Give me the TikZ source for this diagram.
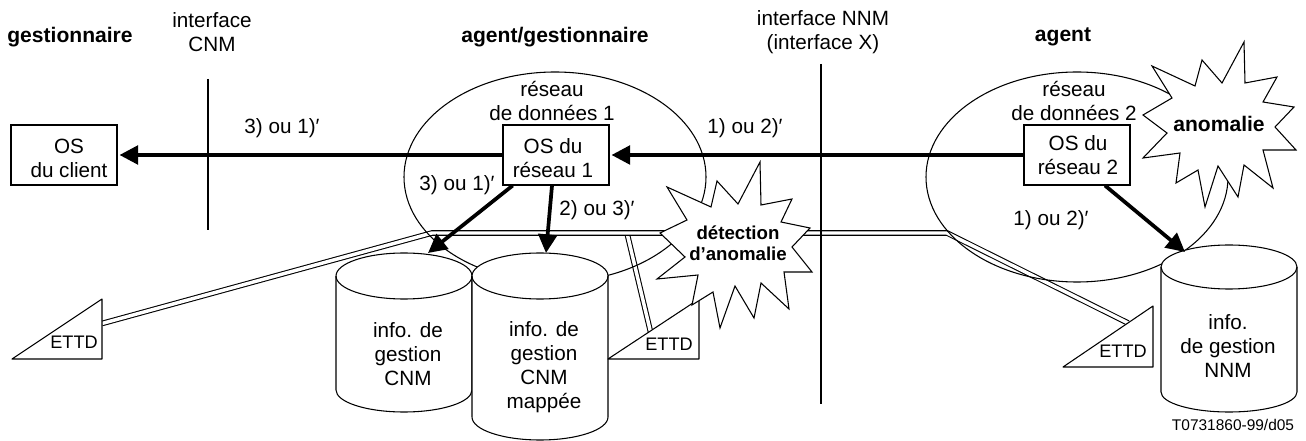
\documentclass[tikz,border=0pt]{standalone}
\usepackage{fontspec}
\setmainfont{Liberation Sans}
\usetikzlibrary{arrows.meta}
\tikzset{
  lab/.style={font=\fontsize{15.5}{18}\selectfont,align=center,inner sep=0pt},
  labb/.style={font=\fontsize{15.8}{18}\selectfont\bfseries,align=center,inner sep=0pt},
  burstlab/.style={font=\fontsize{14}{16}\selectfont\bfseries,align=center,inner sep=0pt},
  ettdlab/.style={font=\fontsize{13.6}{16}\selectfont,inner sep=0pt},
  reflab/.style={font=\fontsize{11.6}{13}\selectfont,inner sep=0pt},
  thin line/.style={line width=0.8pt,draw=black},
  osbox/.style={thin line,fill=white},
  cyl/.style={thin line,fill=white,line join=round},
  burst/.style={thin line,fill=white,line join=miter},
  bus/.style={line width=0.8pt,double=white,double distance=2.6pt,line join=miter},
  thickarrow/.style={line width=2.8pt,-{Triangle[length=14pt,width=14pt]},shorten >=0pt},
  iface/.style={line width=1.2pt}
}
\newcommand{\cylshape}[6]{%
  \draw[cyl] (#1,#3) -- (#1,#4) arc[start angle=180,end angle=0,x radius=68,y radius=#5]
     -- (#2,#3) arc[start angle=0,end angle=-180,x radius=68,y radius=#6] -- cycle;
  \draw[thin line] (#1,#3) arc[start angle=180,end angle=0,x radius=68,y radius=#6];
}
\begin{document}
\begin{tikzpicture}[x=0.75pt,y=-0.75pt]
\useasboundingbox (0,0) rectangle (1306,441);
% named anchor points
\coordinate (e1l) at (102,323.5);
\coordinate (b1) at (432,233);
\coordinate (b2) at (947,233);
\coordinate (e3l) at (1128,323);
\coordinate (brt) at (627,233);
\coordinate (e2l) at (651,334);
\coordinate (cnmt) at (208,79);
\coordinate (cnmb) at (208,230);
\coordinate (nnmt) at (821,64);
\coordinate (nnmb) at (821,404);
\coordinate (tipc1) at (428,253);
\coordinate (tipc2) at (546,253);
\coordinate (tipc3) at (1185,252);
% double lines
\draw[bus] (brt) -- (e2l);
\draw[bus] (e1l) -- (b1) -- (b2) -- (e3l);
% data networks
\draw[thin line] (555,177) ellipse [x radius=151,y radius=105];
\draw[thin line] (1077,177) ellipse [x radius=151,y radius=105];
% cylinders
\cylshape{336}{472}{276}{390}{22}{23}
\cylshape{472}{608}{276}{417}{23}{23}
\cylshape{1161}{1297}{267}{392}{20}{22}
% ETTD triangles
\draw[cyl] (12,359) -- (102,359) -- (102,299) -- cycle;
\draw[cyl] (608,359) -- (699,359) -- (699,299) -- cycle;
\draw[cyl] (1063,367) -- (1153,367) -- (1153,306) -- cycle;
% boxes
\node[osbox,minimum width=79.5pt,minimum height=45pt,inner sep=0pt] (client) at (64,155) {};
\node[osbox,minimum width=79.5pt,minimum height=45pt,inner sep=0pt] (os1) at (556,155) {};
\node[osbox,minimum width=79.5pt,minimum height=45pt,inner sep=0pt] (os2) at (1077,155) {};
% arrows
\draw[thickarrow] (os2.west) -- ([xshift=1.5pt]os1.east);
\draw[thickarrow] (os1.west) -- ([xshift=1.5pt]client.east);
\draw[thickarrow] ([xshift=-32.5pt]os1.south) -- (tipc1);
\draw[thickarrow] ([xshift=-3pt]os1.south) -- (tipc2);
\draw[thickarrow] ([xshift=21pt]os2.south) -- (tipc3);
% interfaces
\draw[iface] (cnmt) -- (cnmb);
\draw[iface] (nnmt) -- (nnmb);
% bursts
\draw[burst] (667,187) -- (711,207) -- (717,181) -- (738,204) -- (760,162) -- (761,205) -- (792,199) -- (781,222) -- (810,228) -- (792,247) -- (812,272) -- (784,272) -- (789,309) -- (761,283) -- (754,318) -- (735,286) -- (720,328) -- (713,292) -- (692,305) -- (698,275) -- (657,279) -- (685,257) -- (660,233) -- (687,220) -- cycle;
\draw[burst] (1152,66) -- (1195,86) -- (1202,60) -- (1222,83) -- (1244,42) -- (1245,83) -- (1277,77) -- (1263,102) -- (1294,107) -- (1275,127) -- (1296,150) -- (1263,150) -- (1273,188) -- (1244,165) -- (1238,197) -- (1218,166) -- (1205,207) -- (1198,170) -- (1176,183) -- (1180,153) -- (1143,158) -- (1167,133) -- (1143,115) -- (1172,98) -- cycle;
% labels
\node[labb] (t1) at (70,37) {gestionnaire};
\node[lab] (t2) at (212,32) {interface\\CNM};
\node[labb] (t3) at (555,37) {agent/gestionnaire};
\node[lab] (t4) at (823,32) {interface NNM\\(interface X)};
\node[labb] (t5) at (1063,37) {agent};
\node[lab] (t6) at (552,101) {réseau\\de données 1};
\node[lab] (t7) at (1074,101) {réseau\\de données 2};
\node[lab] (t8) at (553,158) {OS du\\réseau 1};
\node[lab] (t9) at (1078,155) {OS du\\réseau 2};
\node[lab] (t10) at (69,158) {OS\\du client};
\node[lab] (t11) at (282,128) {3) ou 1)′};
\node[lab] (t12) at (745,128) {1) ou 2)′};
\node[lab] (t13) at (457,185) {3) ou 1)′};
\node[lab] (t14) at (597,210) {2) ou 3)′};
\node[lab] (t15) at (1051,220) {1) ou 2)′};
\node[burstlab] (t16) at (738,243) {détection\\d'anomalie};
\node[labb] (t17) at (1219,124) {anomalie};
\node[lab] (t18) at (408,354) {info. de\\gestion\\CNM};
\node[lab] (t19) at (544,367.5) {info. de\\gestion\\CNM\\mappée};
\node[lab] (t20) at (1228,346) {info.\\de gestion\\NNM};
\node[ettdlab] (t21) at (74,342) {ETTD};
\node[ettdlab] (t22) at (669,344) {ETTD};
\node[ettdlab] (t23) at (1123,351) {ETTD};
\node[reflab] (t24) at (1233,425) {T0731860-99/d05};
\end{tikzpicture}
\end{document}
